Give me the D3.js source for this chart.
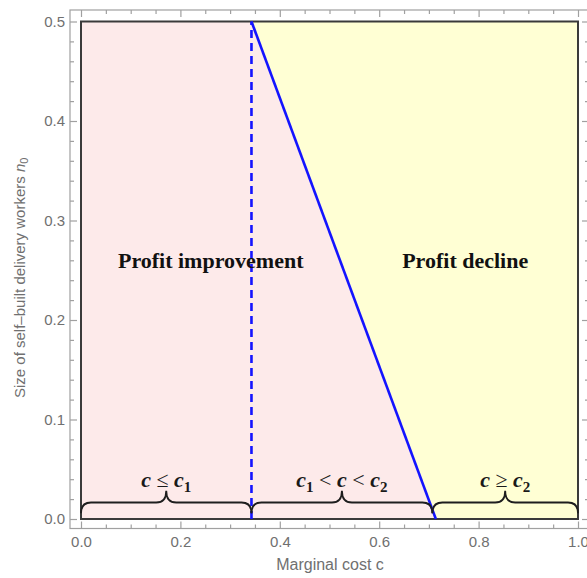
<!DOCTYPE html>
<html>
<head>
<meta charset="utf-8">
<script src="https://cdn.jsdelivr.net/npm/d3@7"></script>
<style>
  html, body { margin: 0; padding: 0; background: #fff; }
  svg { display: block; }
</style>
</head>
<body>
<svg id="chart" width="587" height="578"></svg>
<script>
// Thresholds of marginal cost c
const c1 = 0.343;
const c2 = 0.714;

// Boundary between profit improvement and decline: n0 as c rises
const boundaryC  = [c1, c2];
const boundaryN0 = [0.5, 0];

// Axis ticks
const xTicks = [0, 0.2, 0.4, 0.6, 0.8, 1.0];
const xMinor = [0.05, 0.1, 0.15, 0.25, 0.3, 0.35, 0.45, 0.5, 0.55, 0.65, 0.7, 0.75, 0.85, 0.9, 0.95];
const yTicks = [0, 0.1, 0.2, 0.3, 0.4, 0.5];
const yMinor = [0.02, 0.04, 0.06, 0.08, 0.12, 0.14, 0.16, 0.18, 0.22, 0.24, 0.26, 0.28,
                0.32, 0.34, 0.36, 0.38, 0.42, 0.44, 0.46, 0.48];

// Cost ranges marked by braces, with their conditions
const braceFrom = [0, c1, 0.707];
const braceTo   = [c1, 0.707, 1];
const braceText = [
  [["c", ""], [" ≤ ", "op"], ["c", ""], ["1", "sub"]],
  [["c", ""], ["1", "sub"], [" < ", "op"], ["c", ""], [" < ", "op"], ["c", ""], ["2", "sub"]],
  [["c", ""], [" ≥ ", "op"], ["c", ""], ["2", "sub"]]
];

// Region names
const regionNames = ["Profit improvement", "Profit decline"];
const regionC = [0.261, 0.773];
const regionN0 = 0.2525;

const svg = d3.select("#chart");

const x = d3.scaleLinear().domain([0, 1]).range([81, 578]);
const y = d3.scaleLinear().domain([0, 0.5]).range([519, 21.5]);

// Outer frame bounds
const fL = x(0) - 11, fR = x(1) + 11, fT = y(0.5) - 11.5, fB = y(0) + 9.5;

const pink = "#fdeaea", yellow = "#ffffd4";
const pt = (c, n) => [x(c), y(n)];

// Shaded regions
svg.append("polygon")
  .attr("points", [pt(0, 0), pt(0, 0.5), pt(boundaryC[0], boundaryN0[0]), pt(boundaryC[1], boundaryN0[1])].join(" "))
  .attr("fill", pink);
svg.append("polygon")
  .attr("points", [pt(boundaryC[0], boundaryN0[0]), pt(1, 0.5), pt(1, 0), pt(boundaryC[1], boundaryN0[1])].join(" "))
  .attr("fill", yellow);

// Plot border
svg.append("rect")
  .attr("x", x(0)).attr("y", y(0.5))
  .attr("width", x(1) - x(0)).attr("height", y(0) - y(0.5))
  .attr("fill", "none").attr("stroke", "#3a3a3a").attr("stroke-width", 2);

// Outer frame with inward ticks
const frameColor = "#a0a0a0";
const labelColor = "#707070";
svg.append("rect")
  .attr("x", fL).attr("y", fT).attr("width", fR - fL).attr("height", fB - fT)
  .attr("fill", "none").attr("stroke", frameColor).attr("stroke-width", 1.2);

function styleAxis(g) {
  g.select(".domain").remove();
  g.selectAll(".tick line").attr("stroke", frameColor).attr("stroke-width", 1.2);
  g.selectAll(".tick text").attr("fill", labelColor)
    .attr("font-family", "'Liberation Sans', Arial, sans-serif").attr("font-size", 15);
}
const fmt = d3.format(".1f");

// Bottom
svg.append("g").attr("transform", `translate(0,${fB})`)
  .call(d3.axisBottom(x).tickValues(xTicks).tickFormat(fmt).tickSizeInner(-7).tickSizeOuter(0).tickPadding(8))
  .call(styleAxis);
svg.append("g").attr("transform", `translate(0,${fB})`)
  .call(d3.axisBottom(x).tickValues(xMinor).tickFormat("").tickSizeInner(-4).tickSizeOuter(0))
  .call(styleAxis);
// Top
svg.append("g").attr("transform", `translate(0,${fT})`)
  .call(d3.axisTop(x).tickValues(xTicks).tickFormat("").tickSizeInner(-7).tickSizeOuter(0))
  .call(styleAxis);
svg.append("g").attr("transform", `translate(0,${fT})`)
  .call(d3.axisTop(x).tickValues(xMinor).tickFormat("").tickSizeInner(-4).tickSizeOuter(0))
  .call(styleAxis);
// Left
svg.append("g").attr("transform", `translate(${fL},0)`)
  .call(d3.axisLeft(y).tickValues(yTicks).tickFormat(fmt).tickSizeInner(-7).tickSizeOuter(0).tickPadding(5))
  .call(styleAxis);
svg.append("g").attr("transform", `translate(${fL},0)`)
  .call(d3.axisLeft(y).tickValues(yMinor).tickFormat("").tickSizeInner(-4).tickSizeOuter(0))
  .call(styleAxis);
// Right
svg.append("g").attr("transform", `translate(${fR},0)`)
  .call(d3.axisRight(y).tickValues(yTicks).tickFormat("").tickSizeInner(-7).tickSizeOuter(0))
  .call(styleAxis);
svg.append("g").attr("transform", `translate(${fR},0)`)
  .call(d3.axisRight(y).tickValues(yMinor).tickFormat("").tickSizeInner(-4).tickSizeOuter(0))
  .call(styleAxis);

// Threshold c1 (dashed) and the boundary line
svg.append("line")
  .attr("x1", x(c1)).attr("x2", x(c1)).attr("y1", y(0)).attr("y2", y(0.5))
  .attr("stroke", "#1414ff").attr("stroke-width", 2.6).attr("stroke-dasharray", "8,5");
svg.append("path")
  .attr("d", d3.line().x(d => x(d[0])).y(d => y(d[1]))(boundaryC.map((c, i) => [c, boundaryN0[i]])))
  .attr("fill", "none").attr("stroke", "#1414ff").attr("stroke-width", 2.6);

// Curly braces over each cost range
const braceEnd = 0.0058, braceMid = 0.0166, braceTip = 0.0285;
function bracePath(a, b) {
  const xa = x(a), xb = x(b), xm = (xa + xb) / 2, r = 10;
  const ye = y(braceEnd), yl = y(braceMid), yt = y(braceTip);
  return `M${xa},${ye} Q${xa},${yl} ${xa + r},${yl} L${xm - r},${yl} Q${xm},${yl} ${xm},${yt}` +
         ` Q${xm},${yl} ${xm + r},${yl} L${xb - r},${yl} Q${xb},${yl} ${xb},${ye}`;
}
braceFrom.forEach((a, i) => {
  const b = braceTo[i];
  svg.append("path").attr("d", bracePath(a, b))
    .attr("fill", "none").attr("stroke", "#1e1e1e").attr("stroke-width", 1.8);
  const t = svg.append("text")
    .attr("x", (x(a) + x(b)) / 2).attr("y", 487)
    .attr("text-anchor", "middle")
    .attr("font-family", "'Liberation Serif', 'Times New Roman', serif")
    .attr("font-size", 22).attr("font-weight", "bold").attr("fill", "#1a1a1a");
  braceText[i].forEach(([s, kind]) => {
    const ts = t.append("tspan").text(s);
    if (kind === "sub") {
      ts.attr("font-size", 15).attr("font-style", "normal").attr("dy", 5);
    } else if (kind === "op") {
      ts.attr("font-style", "normal").attr("font-weight", "normal").attr("xml:space", "preserve");
    } else {
      ts.attr("font-style", "italic");
    }
    // return to baseline after a subscript
    if (kind !== "sub" && t.selectAll("tspan").size() > 1) {
      const prev = t.selectAll("tspan").nodes().slice(-2)[0];
      if (prev.getAttribute("dy") === "5") ts.attr("dy", -5);
    }
  });
  t.attr("xml:space", "preserve");
});

// Region names
regionNames.forEach((name, i) => {
  svg.append("text")
    .attr("x", x(regionC[i])).attr("y", y(regionN0))
    .attr("text-anchor", "middle")
    .attr("font-family", "'Liberation Serif', 'Times New Roman', serif")
    .attr("font-size", 22).attr("font-weight", "bold").attr("fill", "#111")
    .text(name);
});

// Axis titles
svg.append("text")
  .attr("x", 330).attr("y", 570).attr("text-anchor", "middle")
  .attr("font-family", "'Liberation Sans', Arial, sans-serif").attr("font-size", 16)
  .attr("fill", labelColor).text("Marginal cost c");

const yt = svg.append("text")
  .attr("transform", "translate(25,398) rotate(-90)")
  .attr("text-anchor", "start")
  .attr("font-family", "'Liberation Sans', Arial, sans-serif").attr("font-size", 15)
  .attr("fill", labelColor);
yt.append("tspan").text("Size of self\u2013built delivery workers ");
yt.append("tspan").attr("font-style", "italic").text("n");
yt.append("tspan").attr("font-size", 11).attr("dy", 3).text("0");
</script>
</body>
</html>
